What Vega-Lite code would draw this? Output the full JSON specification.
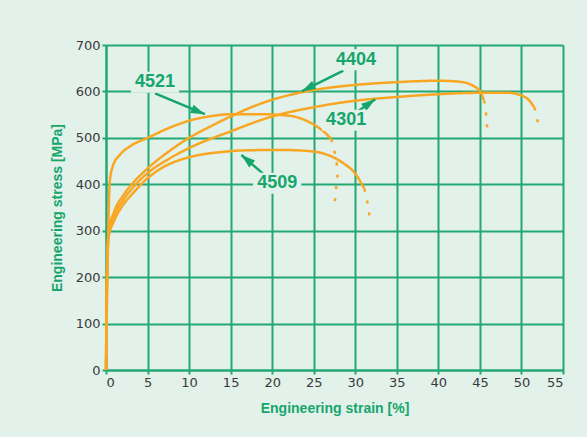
{
  "$schema": "https://vega.github.io/schema/vega-lite/v6.json",
  "width": 457,
  "height": 325,
  "autosize": {"type": "none"},
  "padding": {"left": 106, "top": 45, "right": 24, "bottom": 67},
  "background": "#e2f1ea",
  "config": {
    "view": {"stroke": null},
    "axis": {
      "grid": true,
      "gridColor": "#23a874",
      "gridWidth": 2,
      "gridOpacity": 1,
      "domainColor": "#23a874",
      "domainWidth": 2,
      "tickColor": "#23a874",
      "tickWidth": 2,
      "tickSize": 4,
      "labelFont": "DejaVu Sans",
      "labelFontSize": 13,
      "labelColor": "#3a3a3a",
      "labelPadding": 2,
      "titleFont": "Liberation Sans",
      "titleFontSize": 14,
      "titleFontWeight": "bold",
      "titleColor": "#16a66b"
    }
  },
  "datasets": {
    "curves": [
      {"steel": "4404", "part": "main", "i": 0, "strain": 0, "stress": 0},
      {"steel": "4404", "part": "main", "i": 1, "strain": 0.12, "stress": 200},
      {"steel": "4404", "part": "main", "i": 2, "strain": 0.3, "stress": 295},
      {"steel": "4404", "part": "main", "i": 3, "strain": 1, "stress": 342},
      {"steel": "4404", "part": "main", "i": 4, "strain": 2, "stress": 374},
      {"steel": "4404", "part": "main", "i": 5, "strain": 3.3, "stress": 404},
      {"steel": "4404", "part": "main", "i": 6, "strain": 5, "stress": 434},
      {"steel": "4404", "part": "main", "i": 7, "strain": 7.5, "stress": 470},
      {"steel": "4404", "part": "main", "i": 8, "strain": 10, "stress": 500},
      {"steel": "4404", "part": "main", "i": 9, "strain": 12.5, "stress": 524},
      {"steel": "4404", "part": "main", "i": 10, "strain": 15, "stress": 546},
      {"steel": "4404", "part": "main", "i": 11, "strain": 17.5, "stress": 566},
      {"steel": "4404", "part": "main", "i": 12, "strain": 20, "stress": 582},
      {"steel": "4404", "part": "main", "i": 13, "strain": 22.5, "stress": 594},
      {"steel": "4404", "part": "main", "i": 14, "strain": 25, "stress": 603},
      {"steel": "4404", "part": "main", "i": 15, "strain": 30, "stress": 614},
      {"steel": "4404", "part": "main", "i": 16, "strain": 35, "stress": 620},
      {"steel": "4404", "part": "main", "i": 17, "strain": 40, "stress": 623},
      {"steel": "4404", "part": "main", "i": 18, "strain": 42.5, "stress": 621},
      {"steel": "4404", "part": "main", "i": 19, "strain": 44.2, "stress": 612},
      {"steel": "4404", "part": "main", "i": 20, "strain": 45.1, "stress": 598},
      {"steel": "4404", "part": "main", "i": 21, "strain": 45.5, "stress": 580},
      {"steel": "4404", "part": "drop", "i": 0, "strain": 45.5, "stress": 580},
      {"steel": "4404", "part": "drop", "i": 1, "strain": 45.7, "stress": 558},
      {"steel": "4404", "part": "drop", "i": 2, "strain": 45.9, "stress": 515},
      {"steel": "4301", "part": "main", "i": 0, "strain": 0, "stress": 0},
      {"steel": "4301", "part": "main", "i": 1, "strain": 0.12, "stress": 200},
      {"steel": "4301", "part": "main", "i": 2, "strain": 0.3, "stress": 290},
      {"steel": "4301", "part": "main", "i": 3, "strain": 1, "stress": 332},
      {"steel": "4301", "part": "main", "i": 4, "strain": 2, "stress": 364},
      {"steel": "4301", "part": "main", "i": 5, "strain": 3.3, "stress": 394},
      {"steel": "4301", "part": "main", "i": 6, "strain": 5, "stress": 424},
      {"steel": "4301", "part": "main", "i": 7, "strain": 7.5, "stress": 454},
      {"steel": "4301", "part": "main", "i": 8, "strain": 10, "stress": 478},
      {"steel": "4301", "part": "main", "i": 9, "strain": 15, "stress": 514},
      {"steel": "4301", "part": "main", "i": 10, "strain": 20, "stress": 546},
      {"steel": "4301", "part": "main", "i": 11, "strain": 25, "stress": 566},
      {"steel": "4301", "part": "main", "i": 12, "strain": 30, "stress": 580},
      {"steel": "4301", "part": "main", "i": 13, "strain": 35, "stress": 588},
      {"steel": "4301", "part": "main", "i": 14, "strain": 40, "stress": 594},
      {"steel": "4301", "part": "main", "i": 15, "strain": 45, "stress": 597},
      {"steel": "4301", "part": "main", "i": 16, "strain": 48.4, "stress": 597},
      {"steel": "4301", "part": "main", "i": 17, "strain": 50.2, "stress": 590},
      {"steel": "4301", "part": "main", "i": 18, "strain": 51.1, "stress": 577},
      {"steel": "4301", "part": "main", "i": 19, "strain": 51.55, "stress": 565},
      {"steel": "4301", "part": "drop", "i": 0, "strain": 51.55, "stress": 565},
      {"steel": "4301", "part": "drop", "i": 1, "strain": 51.8, "stress": 551},
      {"steel": "4301", "part": "drop", "i": 2, "strain": 52, "stress": 530},
      {"steel": "4509", "part": "main", "i": 0, "strain": 0, "stress": 0},
      {"steel": "4509", "part": "main", "i": 1, "strain": 0.12, "stress": 200},
      {"steel": "4509", "part": "main", "i": 2, "strain": 0.3, "stress": 285},
      {"steel": "4509", "part": "main", "i": 3, "strain": 1, "stress": 322},
      {"steel": "4509", "part": "main", "i": 4, "strain": 2, "stress": 354},
      {"steel": "4509", "part": "main", "i": 5, "strain": 3.3, "stress": 382},
      {"steel": "4509", "part": "main", "i": 6, "strain": 5, "stress": 413},
      {"steel": "4509", "part": "main", "i": 7, "strain": 7, "stress": 438},
      {"steel": "4509", "part": "main", "i": 8, "strain": 8.5, "stress": 450},
      {"steel": "4509", "part": "main", "i": 9, "strain": 10.65, "stress": 461},
      {"steel": "4509", "part": "main", "i": 10, "strain": 14.2, "stress": 470},
      {"steel": "4509", "part": "main", "i": 11, "strain": 16.5, "stress": 473},
      {"steel": "4509", "part": "main", "i": 12, "strain": 21, "stress": 474},
      {"steel": "4509", "part": "main", "i": 13, "strain": 24.1, "stress": 472},
      {"steel": "4509", "part": "main", "i": 14, "strain": 26.4, "stress": 465},
      {"steel": "4509", "part": "main", "i": 15, "strain": 28.6, "stress": 445},
      {"steel": "4509", "part": "main", "i": 16, "strain": 30, "stress": 423},
      {"steel": "4509", "part": "main", "i": 17, "strain": 31.1, "stress": 390},
      {"steel": "4509", "part": "drop", "i": 0, "strain": 31.1, "stress": 390},
      {"steel": "4509", "part": "drop", "i": 1, "strain": 31.55, "stress": 351},
      {"steel": "4509", "part": "drop", "i": 2, "strain": 31.8, "stress": 318},
      {"steel": "4521", "part": "main", "i": 0, "strain": 0, "stress": 0},
      {"steel": "4521", "part": "main", "i": 1, "strain": 0.2, "stress": 230},
      {"steel": "4521", "part": "main", "i": 2, "strain": 0.45, "stress": 405},
      {"steel": "4521", "part": "main", "i": 3, "strain": 0.8, "stress": 438},
      {"steel": "4521", "part": "main", "i": 4, "strain": 1.7, "stress": 464},
      {"steel": "4521", "part": "main", "i": 5, "strain": 3, "stress": 483},
      {"steel": "4521", "part": "main", "i": 6, "strain": 5, "stress": 500},
      {"steel": "4521", "part": "main", "i": 7, "strain": 7.96, "stress": 524},
      {"steel": "4521", "part": "main", "i": 8, "strain": 10.2, "stress": 538},
      {"steel": "4521", "part": "main", "i": 9, "strain": 12.4, "stress": 546},
      {"steel": "4521", "part": "main", "i": 10, "strain": 15.1, "stress": 551},
      {"steel": "4521", "part": "main", "i": 11, "strain": 18.7, "stress": 551},
      {"steel": "4521", "part": "main", "i": 12, "strain": 22.3, "stress": 547},
      {"steel": "4521", "part": "main", "i": 13, "strain": 24.1, "stress": 537},
      {"steel": "4521", "part": "main", "i": 14, "strain": 25.5, "stress": 523},
      {"steel": "4521", "part": "main", "i": 15, "strain": 26.6, "stress": 507},
      {"steel": "4521", "part": "main", "i": 16, "strain": 27.1, "stress": 497},
      {"steel": "4521", "part": "drop", "i": 0, "strain": 27.1, "stress": 497},
      {"steel": "4521", "part": "drop", "i": 1, "strain": 27.5, "stress": 470},
      {"steel": "4521", "part": "drop", "i": 2, "strain": 27.8, "stress": 440},
      {"steel": "4521", "part": "drop", "i": 3, "strain": 27.9, "stress": 410},
      {"steel": "4521", "part": "drop", "i": 4, "strain": 27.5, "stress": 352}
    ],
    "labels": [
      {"steel": "4521", "strain": 5.9, "stress": 620},
      {"steel": "4404", "strain": 30.1, "stress": 668},
      {"steel": "4301", "strain": 28.9, "stress": 538},
      {"steel": "4509", "strain": 20.6, "stress": 402}
    ],
    "arrows": [
      {"steel": "4521", "strain": 5.9, "stress": 596, "strain_end": 11.9, "stress_end": 551},
      {"steel": "4404", "strain": 28.56, "stress": 645, "strain_end": 23.55, "stress_end": 600},
      {"steel": "4301", "strain": 29.4, "stress": 546, "strain_end": 32.4, "stress_end": 583},
      {"steel": "4509", "strain": 18.9, "stress": 423, "strain_end": 16.3, "stress_end": 463}
    ]
  },
  "layer": [
    {
      "data": {"name": "curves"},
      "mark": {"type": "line", "color": "#f9a623", "strokeWidth": 2.5, "interpolate": "monotone"},
      "encoding": {
        "x": {"field": "strain", "type": "quantitative", "title": "Engineering strain [%]",
              "scale": {"domain": [0, 55], "nice": false},
              "axis": {"values": [0, 5, 10, 15, 20, 25, 30, 35, 40, 45, 50, 55], "titlePadding": 12}},
        "y": {"field": "stress", "type": "quantitative", "title": "Engineering stress [MPa]",
              "scale": {"domain": [0, 700], "nice": false},
              "axis": {"values": [0, 100, 200, 300, 400, 500, 600, 700], "titlePadding": 11}},
        "detail": {"field": "steel"},
        "strokeDash": {"field": "part", "type": "nominal", "legend": null,
                       "scale": {"domain": ["main", "drop"], "range": [[1, 0], [3, 9]]}},
        "order": {"field": "i", "type": "quantitative"}
      }
    },
    {
      "data": {"name": "arrows"},
      "mark": {"type": "rule", "color": "#16a66b", "strokeWidth": 2.5},
      "encoding": {
        "x": {"field": "strain", "type": "quantitative"},
        "y": {"field": "stress", "type": "quantitative"},
        "x2": {"field": "strain_end"},
        "y2": {"field": "stress_end"}
      }
    },
    {
      "data": {"name": "arrows"},
      "transform": [{"filter": "datum.steel == '4521'"}],
      "mark": {"type": "point", "shape": "M0,0L0.45,1.4L-0.45,1.4Z", "size": 400, "filled": true, "color": "#16a66b", "opacity": 1, "angle": 112},
      "encoding": {"x": {"field": "strain_end", "type": "quantitative"}, "y": {"field": "stress_end", "type": "quantitative"}}
    },
    {
      "data": {"name": "arrows"},
      "transform": [{"filter": "datum.steel == '4404'"}],
      "mark": {"type": "point", "shape": "M0,0L0.45,1.4L-0.45,1.4Z", "size": 400, "filled": true, "color": "#16a66b", "opacity": 1, "angle": 243},
      "encoding": {"x": {"field": "strain_end", "type": "quantitative"}, "y": {"field": "stress_end", "type": "quantitative"}}
    },
    {
      "data": {"name": "arrows"},
      "transform": [{"filter": "datum.steel == '4301'"}],
      "mark": {"type": "point", "shape": "M0,0L0.45,1.4L-0.45,1.4Z", "size": 400, "filled": true, "color": "#16a66b", "opacity": 1, "angle": 55},
      "encoding": {"x": {"field": "strain_end", "type": "quantitative"}, "y": {"field": "stress_end", "type": "quantitative"}}
    },
    {
      "data": {"name": "arrows"},
      "transform": [{"filter": "datum.steel == '4509'"}],
      "mark": {"type": "point", "shape": "M0,0L0.45,1.4L-0.45,1.4Z", "size": 400, "filled": true, "color": "#16a66b", "opacity": 1, "angle": 310},
      "encoding": {"x": {"field": "strain_end", "type": "quantitative"}, "y": {"field": "stress_end", "type": "quantitative"}}
    },
    {
      "data": {"name": "labels"},
      "mark": {"type": "point", "shape": "M-1.15,-0.5H1.15V0.5H-1.15Z", "size": 1764, "filled": true, "color": "#e2f1ea", "opacity": 1},
      "encoding": {"x": {"field": "strain", "type": "quantitative"}, "y": {"field": "stress", "type": "quantitative"}}
    },
    {
      "data": {"name": "labels"},
      "mark": {"type": "text", "font": "Liberation Sans", "fontSize": 18, "fontWeight": "bold", "color": "#16a66b", "baseline": "middle", "align": "center"},
      "encoding": {
        "x": {"field": "strain", "type": "quantitative"},
        "y": {"field": "stress", "type": "quantitative"},
        "text": {"field": "steel"}
      }
    }
  ]
}
